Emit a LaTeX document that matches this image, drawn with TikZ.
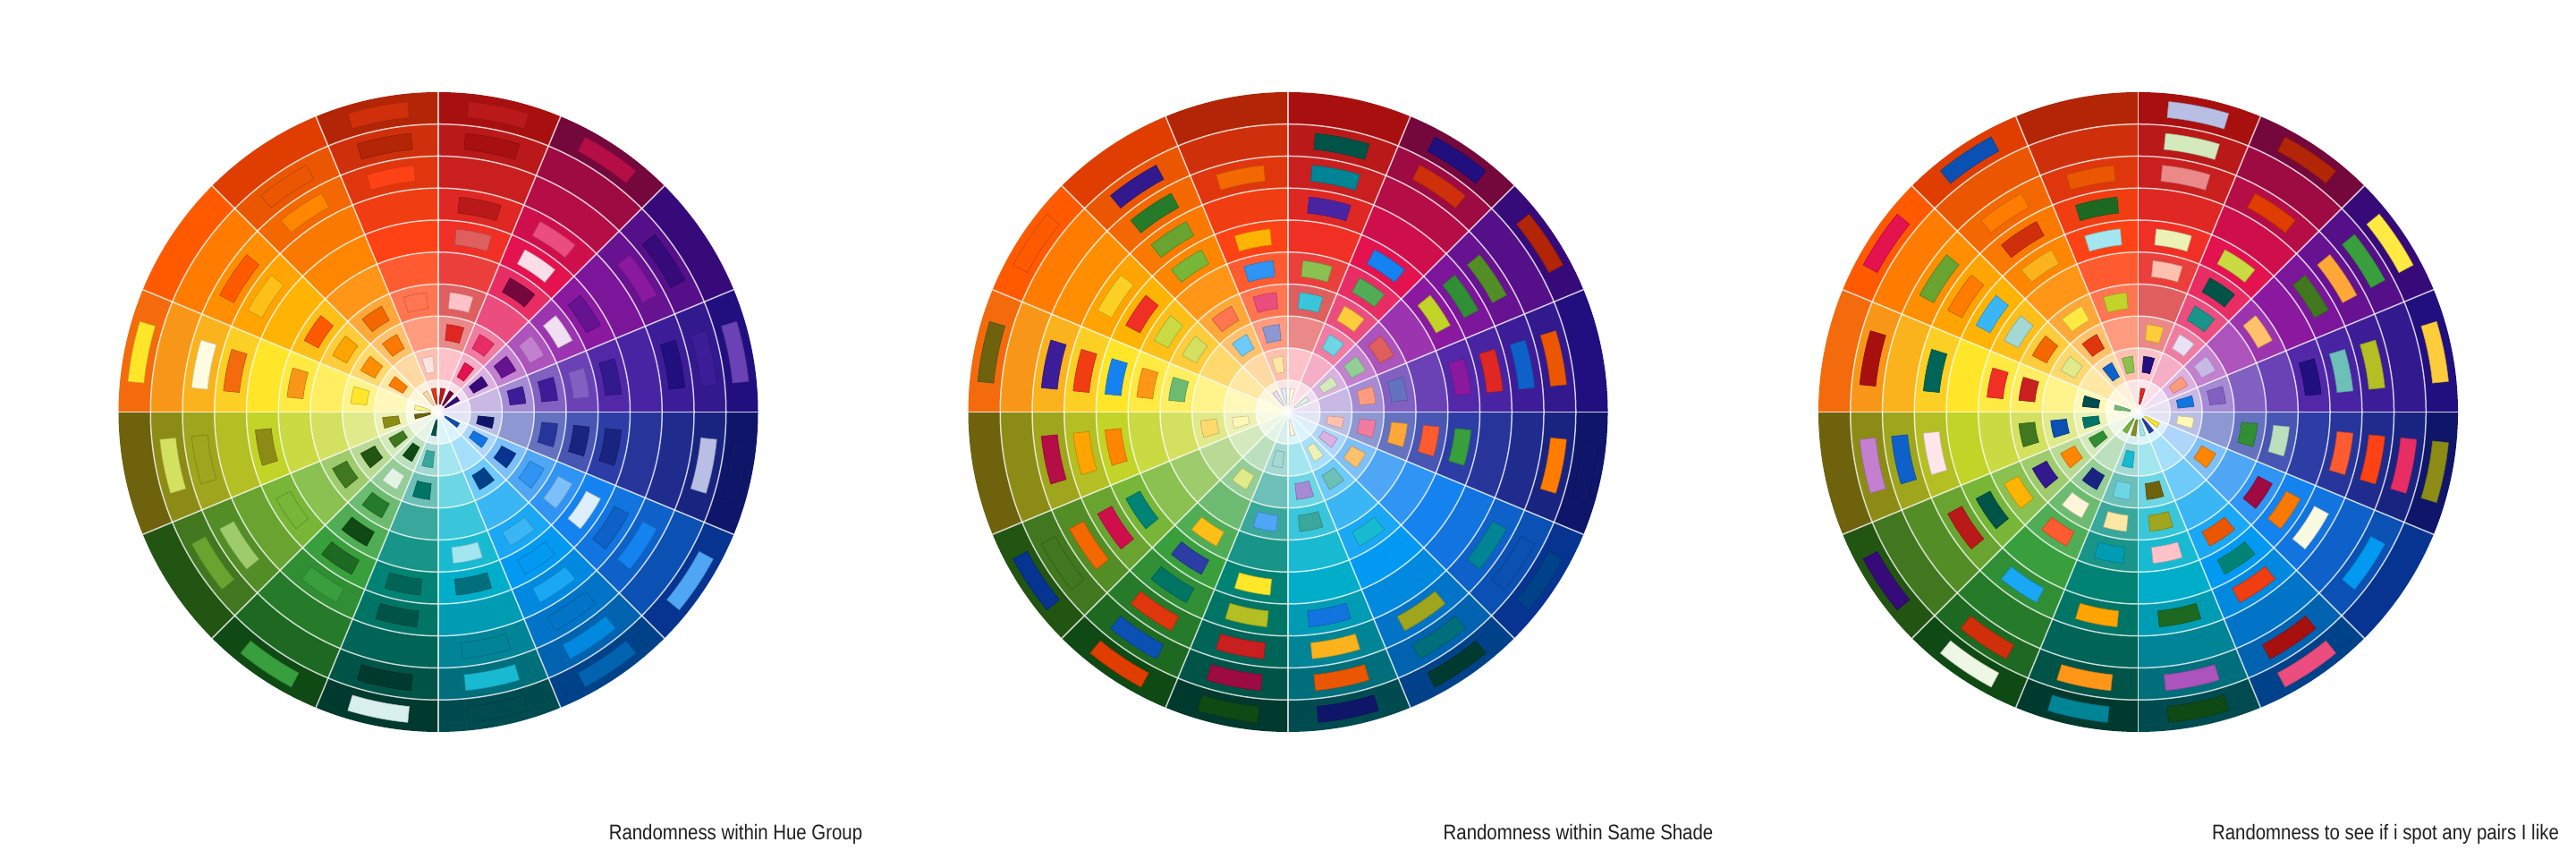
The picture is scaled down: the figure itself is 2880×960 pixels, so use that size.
\documentclass[tikz,border=0pt]{standalone}
\usepackage{graphicx}
\usepackage{fontspec}
\setmainfont{Liberation Sans}
\makeatletter
\newcount\palk
\def\gam{1.25}
\def\gammaset#1,#2,#3\relax#4{%
  \pgfmathsetmacro\gR{max(#1,0.0005)^\gam}%
  \pgfmathsetmacro\gG{max(#2,0.0005)^\gam}%
  \pgfmathsetmacro\gB{max(#3,0.0005)^\gam}%
  \edef\next{\noexpand\definecolor{mat#4x\the\palk}{rgb}{\gR,\gG,\gB}}\next}
\def\defpal#1#2{\palk=0 \@for\pc:=#2\do{%
  \edef\next{\noexpand\definecolor{tmpc}{HTML}{\pc}}\next
  \extractcolorspecs{tmpc}{\tmpm}{\tmps}%
  \expandafter\gammaset\tmps\relax{#1}%
  \advance\palk by 1 }}
\makeatother
\defpal{0}{FFEBEE,FFCDD2,EF9A9A,E57373,EF5350,F44336,E53935,D32F2F,C62828,B71C1C}
\defpal{1}{FCE4EC,F8BBD0,F48FB1,F06292,EC407A,E91E63,D81B60,C2185B,AD1457,880E4F}
\defpal{2}{F3E5F5,E1BEE7,CE93D8,BA68C8,AB47BC,9C27B0,8E24AA,7B1FA2,6A1B9A,4A148C}
\defpal{3}{EDE7F6,D1C4E9,B39DDB,9575CD,7E57C2,673AB7,5E35B1,512DA8,4527A0,311B92}
\defpal{4}{E8EAF6,C5CAE9,9FA8DA,7986CB,5C6BC0,3F51B5,3949AB,303F9F,283593,1A237E}
\defpal{5}{E3F2FD,BBDEFB,90CAF9,64B5F6,42A5F5,2196F3,1E88E5,1976D2,1565C0,0D47A1}
\defpal{6}{E1F5FE,B3E5FC,81D4FA,4FC3F7,29B6F6,03A9F4,039BE5,0288D1,0277BD,01579B}
\defpal{7}{E0F7FA,B2EBF2,80DEEA,4DD0E1,26C6DA,00BCD4,00ACC1,0097A7,00838F,006064}
\defpal{8}{E0F2F1,B2DFDB,80CBC4,4DB6AC,26A69A,009688,00897B,00796B,00695C,004D40}
\defpal{9}{E8F5E9,C8E6C9,A5D6A7,81C784,66BB6A,4CAF50,43A047,388E3C,2E7D32,1B5E20}
\defpal{10}{F1F8E9,DCEDC8,C5E1A5,AED581,9CCC65,8BC34A,7CB342,689F38,558B2F,33691E}
\defpal{11}{F9FBE7,F0F4C3,E6EE9C,DCE775,D4E157,CDDC39,C0CA33,AFB42B,9E9D24,827717}
\defpal{12}{FFFDE7,FFF9C4,FFF59D,FFF176,FFEE58,FFEB3B,FDD835,FBC02D,F9A825,F57F17}
\defpal{13}{FFF8E1,FFECB3,FFE082,FFD54F,FFCA28,FFC107,FFB300,FFA000,FF8F00,FF6F00}
\defpal{14}{FFF3E0,FFE0B2,FFCC80,FFB74D,FFA726,FF9800,FB8C00,F57C00,EF6C00,E65100}
\defpal{15}{FBE9E7,FFCCBC,FFAB91,FF8A65,FF7043,FF5722,F4511E,E64A19,D84315,BF360C}

\def\patchesA{0/1/0/8, 0/3/0/6, 0/4/0/1, 0/6/0/3, 0/7/0/8, 0/9/0/9, 0/10/0/8,
1/1/1/9, 1/2/1/5, 1/3/1/4, 1/5/1/9, 1/6/1/0, 1/7/1/3, 1/10/1/7,
2/1/2/9, 2/2/2/9, 2/3/2/7, 2/4/2/2, 2/5/2/0, 2/6/2/7, 2/8/2/5, 2/9/2/9,
3/3/3/7, 3/4/3/7, 3/5/3/3, 3/6/3/8, 3/8/3/9, 3/9/3/7, 3/10/3/4,
4/2/4/9, 4/4/4/6, 4/5/4/8, 4/6/4/8, 4/9/4/1, 4/10/4/9,
5/1/5/8, 5/2/5/6, 5/3/5/9, 5/4/5/4, 5/5/5/2, 5/6/5/0, 5/7/5/7, 5/8/5/5, 5/10/5/3,
6/3/6/9, 6/5/6/3, 6/6/6/5, 6/7/6/4, 6/8/6/7, 6/9/6/6, 6/10/6/8,
7/5/7/1, 7/6/7/8, 7/8/7/7, 7/9/7/4, 7/10/7/9,
8/1/8/8, 8/2/8/3, 8/3/8/6, 8/6/8/7, 8/7/8/8, 8/9/8/9, 8/10/8/0,
9/2/9/9, 9/3/9/0, 9/4/9/7, 9/5/9/9, 9/6/9/8, 9/7/9/5, 9/10/9/5,
10/2/10/8, 10/3/10/9, 10/4/10/8, 10/6/10/5, 10/8/10/3, 10/9/10/6,
11/1/11/9, 11/2/11/8, 11/6/11/8, 11/8/11/7, 11/9/11/3,
12/1/12/2, 12/3/12/5, 12/5/12/8, 12/7/12/9, 12/8/12/0, 12/10/12/5,
13/2/13/8, 13/3/13/7, 13/4/13/6, 13/5/13/9, 13/7/13/4, 13/8/13/9,
14/1/14/1, 14/3/14/6, 14/4/14/7, 14/8/14/5, 14/9/14/8,
15/1/15/7, 15/2/15/0, 15/4/15/3, 15/8/15/5, 15/9/15/9, 15/10/15/8}

\def\patchesB{0/1/12/0, 0/4/7/3, 0/5/10/4, 0/7/3/6, 0/8/7/7, 0/9/8/8,
1/3/7/2, 1/4/13/3, 1/5/9/4, 1/6/5/5, 1/9/15/8, 1/10/3/9,
2/1/9/0, 2/2/10/1, 2/3/9/2, 2/4/0/3, 2/6/11/5, 2/7/9/6, 2/8/10/7, 2/10/15/9,
3/3/15/2, 3/4/4/3, 3/6/2/5, 3/7/0/6, 3/8/5/7, 3/9/14/8,
4/2/15/1, 4/3/1/2, 4/4/14/3, 4/5/15/4, 4/6/9/5, 4/9/13/8, 4/10/4/9,
5/2/2/1, 5/3/14/2, 5/8/7/7, 5/9/5/8, 5/10/6/9,
6/2/11/1, 6/3/8/2, 6/5/7/4, 6/8/11/7, 6/9/7/8, 6/10/8/9,
7/1/13/0, 7/3/3/2, 7/4/8/3, 7/7/5/6, 7/8/12/7, 7/9/14/8, 7/10/4/9,
8/2/8/1, 8/4/5/3, 8/6/12/5, 8/7/11/6, 8/8/0/7, 8/9/1/8, 8/10/9/9,
9/3/11/2, 9/5/13/4, 9/6/4/5, 9/7/8/6, 9/8/15/7, 9/9/5/8, 9/10/14/9,
10/6/8/5, 10/7/1/6, 10/8/14/7, 10/9/10/8, 10/10/5/9,
11/2/12/1, 11/3/13/2, 11/6/14/5, 11/7/13/6, 11/8/1/7,
12/4/9/3, 12/5/14/4, 12/6/5/5, 12/7/15/6, 12/8/3/7, 12/10/11/9,
13/4/11/3, 13/5/11/4, 13/6/0/5, 13/7/12/6, 13/10/13/9,
14/1/3/0, 14/3/6/2, 14/4/15/3, 14/6/10/5, 14/7/10/6, 14/8/9/7, 14/9/3/8,
15/1/5/0, 15/2/13/1, 15/3/4/2, 15/4/1/3, 15/5/5/4, 15/6/13/5, 15/8/14/7}

\def\patchesC{0/1/0/6, 0/2/3/9, 0/3/13/3, 0/5/15/1, 0/6/11/1, 0/8/0/2, 0/9/10/1, 0/10/4/1,
1/3/3/0, 1/4/8/4, 1/5/8/8, 1/6/11/4, 1/8/14/9, 1/10/15/9,
2/2/15/2, 2/3/3/1, 2/5/14/2, 2/7/10/8, 2/8/14/3, 2/9/9/5, 2/10/12/4,
3/2/5/6, 3/3/3/3, 3/6/3/9, 3/7/8/2, 3/8/11/6, 3/10/13/3,
4/2/12/1, 4/4/9/6, 4/5/9/1, 4/7/15/4, 4/8/15/5, 4/9/1/4, 4/10/11/8,
5/1/12/5, 5/3/14/5, 5/5/1/8, 5/6/14/6, 5/7/11/0, 5/9/6/5,
6/1/4/5, 6/5/14/8, 6/6/8/5, 6/7/15/6, 6/9/0/9, 6/10/1/3,
7/1/7/1, 7/3/11/9, 7/4/11/7, 7/5/0/1, 7/7/9/8, 7/9/2/3, 7/10/9/9,
8/1/11/8, 8/2/7/4, 8/3/7/2, 8/4/13/1, 8/5/7/6, 8/7/13/6, 8/9/14/4, 8/10/7/7,
9/1/10/5, 9/3/4/8, 9/4/13/0, 9/5/15/4, 9/7/6/4, 9/9/15/8, 9/10/10/0,
10/2/9/6, 10/3/14/5, 10/4/3/8, 10/5/13/5, 10/6/8/8, 10/7/0/8, 10/10/2/9,
11/2/8/6, 11/3/5/8, 11/4/10/8, 11/7/0/0, 11/8/5/7, 11/9/2/2,
12/1/9/3, 12/2/7/9, 12/4/0/7, 12/5/0/5, 12/7/8/7, 12/9/0/9,
13/3/11/2, 13/4/14/7, 13/5/8/1, 13/6/6/3, 13/7/13/8, 13/8/10/6, 13/10/1/5,
14/2/5/7, 14/3/15/7, 14/4/12/4, 14/6/12/7, 14/7/15/8, 14/8/13/8, 14/10/5/8,
15/2/10/4, 15/4/11/5, 15/6/7/1, 15/7/9/8, 15/8/14/8}

\tikzset{
  gridline/.style={draw=white, draw opacity=0.75, line width=0.375pt},
  patchbox/.style={line width=0.15pt},
  lbl/.style={font=\fontsize{5.93pt}{7pt}\selectfont, text=black!88, inner sep=0pt}
}

\newcommand\colorwheel[3]{%
\begin{scope}[shift={(#1,#2)}]
  \foreach \s in {0,...,15}{
    \foreach \r in {1,...,10}{
      \pgfmathsetmacro\aA{90-22.5*\s}
      \pgfmathsetmacro\aB{\aA-22.5}
      \pgfmathsetmacro\rI{(\r-1)*35.75+0.01}
      \pgfmathsetmacro\rO{\r*35.75}
      \pgfmathtruncatemacro\k{\r-1}
      \fill[fill=mat\s x\k] (\aA:\rI) arc[start angle=\aA,end angle=\aB,radius=\rI]
        -- (\aB:\rO) arc[start angle=\aB,end angle=\aA,radius=\rO] -- cycle;
    }
  }
  \foreach \s/\r/\h/\k in #3 {
    \pgfmathsetmacro\aA{78.75-22.5*\s+5.625}
    \pgfmathsetmacro\aB{\aA-11.25}
    \pgfmathsetmacro\rI{(\r-0.5)*35.75-8.94}
    \pgfmathsetmacro\rO{(\r-0.5)*35.75+8.94}
    \filldraw[patchbox, fill=mat\h x\k, draw=mat\h x\k!78!black]
      (\aA:\rI) arc[start angle=\aA,end angle=\aB,radius=\rI]
      -- (\aB:\rO) arc[start angle=\aB,end angle=\aA,radius=\rO] -- cycle;
  }
  \foreach \k in {1,...,9} \draw[gridline] (0,0) circle[radius=\k*35.75];
  \foreach \s in {0,...,7} \draw[gridline] (90-22.5*\s:357.5) -- (270-22.5*\s:357.5);
\end{scope}}

\begin{document}
\begin{tikzpicture}[x=0.25pt,y=0.25pt]
  \useasboundingbox (0,0) rectangle (2880,960);
  \fill[white] (0,0) rectangle (2880,960);
  \colorwheel{490}{499.5}{\patchesA}
  \colorwheel{1440}{499.5}{\patchesB}
  \colorwheel{2390.5}{499.5}{\patchesC}
  \node[lbl, anchor=base] (t1) at (822.5,21) {\scalebox{0.86}[1]{Randomness within Hue Group}};
  \node[lbl, anchor=base] (t2) at (1764.5,21) {\scalebox{0.86}[1]{Randomness within Same Shade}};
  \node[lbl, anchor=base] (t3) at (2667,21) {\scalebox{0.86}[1]{Randomness to see if i spot any pairs I like}};
\end{tikzpicture}
\end{document}
